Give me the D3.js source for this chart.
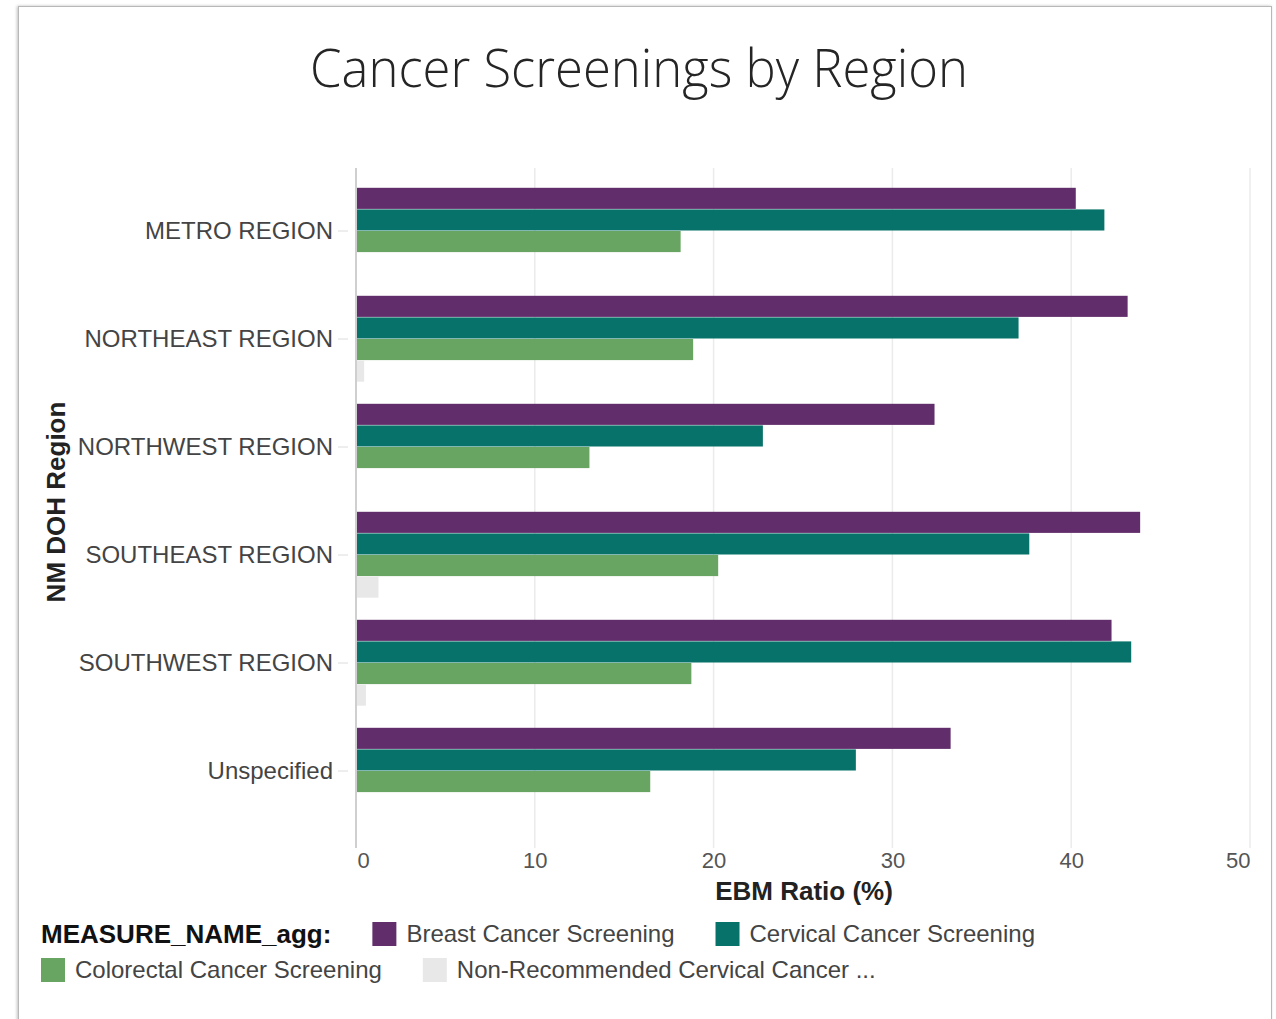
<!DOCTYPE html>
<html>
<head>
<meta charset="utf-8">
<script src="https://cdn.jsdelivr.net/npm/d3@7"></script>
<style>
  body { margin: 0; background: #fff; }
  svg { display: block; }
</style>
</head>
<body>
<script>
// values (EBM Ratio, %)
var regions = ["METRO REGION", "NORTHEAST REGION", "NORTHWEST REGION", "SOUTHEAST REGION", "SOUTHWEST REGION", "Unspecified"];
var measures = ["Breast Cancer Screening", "Cervical Cancer Screening", "Colorectal Cancer Screening", "Non-Recommended Cervical Cancer ..."];
var breast = [40.2, 43.1, 32.3, 43.8, 42.2, 33.2];
var cervical = [41.8, 37.0, 22.7, 37.6, 43.3, 27.9];
var colorectal = [18.1, 18.8, 13.0, 20.2, 18.7, 16.4];
var nonRecommended = [0, 0.4, 0, 1.2, 0.5, 0];
var xTicks = [0, 10, 20, 30, 40, 50];
var colors = ["#622d6b", "#07726a", "#69a562", "#e8e8e8"];

var series = [breast, cervical, colorectal, nonRecommended];

//Width and height
var w = 1276;
var h = 1019;
var font = "'Liberation Sans', Arial, sans-serif";

var svg = d3.select("body")
    .append("svg")
    .attr("width", w)
    .attr("height", h);

// card frame with a faint shadow on the left
var defs = svg.append("defs");
var shadow = defs.append("filter").attr("id", "shadow")
    .attr("x", "-5%").attr("y", "-5%").attr("width", "110%").attr("height", "110%");
shadow.append("feDropShadow")
    .attr("dx", -1).attr("dy", 0).attr("stdDeviation", 1.5)
    .attr("flood-color", "#000").attr("flood-opacity", 0.25);

svg.append("rect")
    .attr("x", 18.5).attr("y", 6.5)
    .attr("width", 1253).attr("height", 1030)
    .attr("fill", "#fff")
    .attr("stroke", "#b8b8b8")
    .attr("filter", "url(#shadow)");

// scales
var x = d3.scaleLinear()
    .domain([0, 50])
    .range([356, 1250]);

var y = d3.scaleBand()
    .domain(regions)
    .range([177, 825])
    .paddingInner(0.2)
    .paddingOuter(0.1);

var y1 = d3.scaleBand()
    .domain(d3.range(series.length))
    .range([0, y.bandwidth()]);

// gridlines
svg.append("g")
    .selectAll("line")
    .data(xTicks)
    .enter()
    .append("line")
    .attr("x1", d => x(d)).attr("x2", d => x(d))
    .attr("y1", 168).attr("y2", 848)
    .attr("stroke", "#ebebeb")
    .attr("stroke-width", 1.5);

// x axis labels (first/last kept inside the plot, like the original)
var xAxis = d3.axisBottom(x).tickValues(xTicks).tickSize(0).tickPadding(0);
var gx = svg.append("g")
    .attr("transform", "translate(0,852)")
    .call(xAxis);
gx.select(".domain").remove();
gx.selectAll("text")
    .attr("dy", "0.71em")
    .attr("font-family", font)
    .attr("font-size", 22)
    .attr("fill", "#555")
    .attr("text-anchor", d => d === 0 ? "start" : (d === 50 ? "end" : "middle"))
    .attr("dx", d => d === 0 ? 1 : 0);

// bars
var groups = svg.append("g")
    .selectAll("g")
    .data(regions)
    .enter()
    .append("g")
    .attr("transform", d => "translate(0," + y(d) + ")");

groups.selectAll("rect")
    .data((d, i) => series.map((s, k) => ({k: k, v: s[i]})))
    .enter()
    .append("rect")
    .attr("x", x(0) + 1)
    .attr("y", d => y1(d.k))
    .attr("width", d => Math.max(0, x(d.v) - x(0)))
    .attr("height", y1.bandwidth() - 0.5)
    .attr("fill", d => colors[d.k]);

// y axis
svg.append("line")
    .attr("x1", 356).attr("x2", 356)
    .attr("y1", 168).attr("y2", 848)
    .attr("stroke", "#cfcfcf")
    .attr("stroke-width", 2);

var yAxis = d3.axisLeft(y).tickSize(10).tickPadding(5);
var gy = svg.append("g")
    .attr("transform", "translate(348,0)")
    .call(yAxis);
gy.select(".domain").remove();
gy.selectAll(".tick line").attr("stroke", "#dcdcdc");
gy.selectAll("text")
    .attr("font-family", font)
    .attr("font-size", 24)
    .attr("fill", "#444");

// title
svg.append("text")
    .attr("x", 639)
    .attr("y", 87)
    .attr("text-anchor", "middle")
    .attr("font-family", "'Open Sans', 'Segoe UI', sans-serif")
    .attr("font-weight", 300)
    .attr("font-size", 54)
    .attr("fill", "#252525")
    .attr("textLength", 658)
    .attr("lengthAdjust", "spacingAndGlyphs")
    .text("Cancer Screenings by Region");

// axis titles
svg.append("text")
    .attr("x", 804)
    .attr("y", 900)
    .attr("text-anchor", "middle")
    .attr("font-family", font)
    .attr("font-weight", "bold")
    .attr("font-size", 26)
    .attr("fill", "#222")
    .text("EBM Ratio (%)");

svg.append("text")
    .attr("transform", "translate(65,502) rotate(-90)")
    .attr("text-anchor", "middle")
    .attr("font-family", font)
    .attr("font-weight", "bold")
    .attr("font-size", 26)
    .attr("fill", "#222")
    .text("NM DOH Region");

// legend
var legend = svg.append("g").attr("class", "legend");
var legTitle = legend.append("text")
    .attr("x", 41)
    .attr("y", 943)
    .attr("font-family", font)
    .attr("font-weight", "bold")
    .attr("font-size", 26)
    .attr("fill", "#111")
    .text("MEASURE_NAME_agg:");

// legend rows: first two items beside the title, the rest on a second line
var legRows = [0, 0, 1, 1];
var cursor = {0: 41 + legTitle.node().getComputedTextLength() + 41, 1: 41};
var rowTop = [922, 958];

measures.forEach(function(m, k) {
    var row = legRows[k];
    var lx = cursor[row];
    legend.append("rect")
        .attr("x", lx).attr("y", rowTop[row])
        .attr("width", 24).attr("height", 24)
        .attr("fill", colors[k]);
    var t = legend.append("text")
        .attr("x", lx + 34)
        .attr("y", rowTop[row] + 20)
        .attr("font-family", font)
        .attr("font-size", 24)
        .attr("fill", "#444")
        .text(m);
    cursor[row] = lx + 34 + t.node().getComputedTextLength() + 41;
});
</script>
</body>
</html>
